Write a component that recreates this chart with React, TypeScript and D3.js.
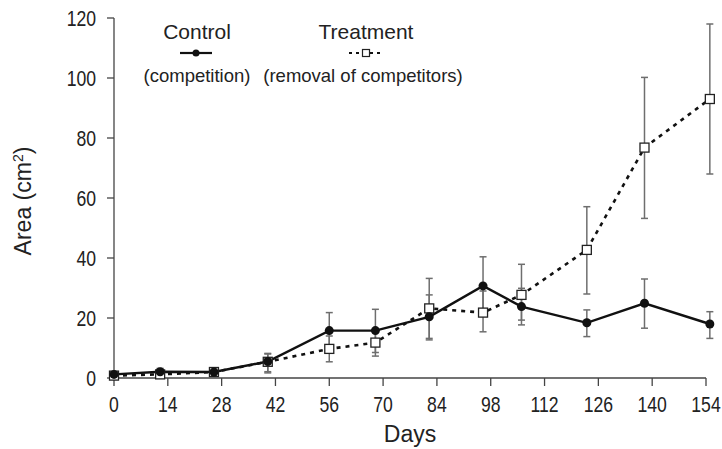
import React from "react";
import * as d3 from "d3";

const days = [0, 12, 26, 40, 56, 68, 82, 96, 106, 123, 138, 155];
const controlMean = [1.2, 2.1, 2.0, 5.5, 15.8, 15.8, 20.4, 30.7, 23.8, 18.4, 24.9, 18.0];
const controlLow = [0.6, 1.4, 1.5, 2.1, 9.8, 8.5, 12.7, 21.5, 17.7, 13.8, 16.6, 13.2];
const controlHigh = [1.8, 3.2, 2.5, 8.0, 21.8, 22.9, 27.7, 40.4, 29.9, 22.7, 33.0, 22.1];
const treatMean = [0.8, 1.2, 2.0, 5.4, 9.7, 11.8, 23.2, 21.8, 27.7, 42.7, 76.8, 93.0];
const treatLow = [0.3, 0.6, 1.5, 1.7, 5.4, 7.3, 13.2, 15.4, 19.3, 28.0, 53.2, 68.0];
const treatHigh = [1.3, 1.8, 2.5, 8.2, 14.0, 16.3, 33.2, 29.0, 37.9, 57.1, 100.2, 118.0];
const xTicks = [0, 14, 28, 42, 56, 70, 84, 98, 112, 126, 140, 154];
const yTicks = [0, 20, 40, 60, 80, 100, 120];

const W = 722;
const H = 449;
const x = d3.scaleLinear().domain([0, 154]).range([114, 706]);
const y = d3.scaleLinear().domain([0, 120]).range([378, 18]);

const FONT = "'Liberation Sans', Arial, Helvetica, sans-serif";

type Pt = { d: number; m: number; lo: number; hi: number };
const control: Pt[] = days.map((d, i) => ({ d, m: controlMean[i], lo: controlLow[i], hi: controlHigh[i] }));
const treat: Pt[] = days.map((d, i) => ({ d, m: treatMean[i], lo: treatLow[i], hi: treatHigh[i] }));

const line = d3
  .line<Pt>()
  .x((p) => x(p.d))
  .y((p) => y(p.m));

const ErrorBars = ({ data }: { data: Pt[] }) => (
  <g stroke="#6e6e6e" strokeWidth={1.5} fill="none">
    {data.map((p, i) => (
      <g key={i}>
        <line x1={x(p.d)} x2={x(p.d)} y1={y(p.lo)} y2={y(p.hi)} />
        <line x1={x(p.d) - 3.5} x2={x(p.d) + 3.5} y1={y(p.lo)} y2={y(p.lo)} />
        <line x1={x(p.d) - 3.5} x2={x(p.d) + 3.5} y1={y(p.hi)} y2={y(p.hi)} />
      </g>
    ))}
  </g>
);

const SX = 0.8;

export default function App() {
  return (
    <svg
      width={W}
      height={H}
      style={{ position: "absolute", left: 0, top: 0, background: "#fff" }}
      fontFamily={FONT}
    >
      <rect width={W} height={H} fill="#fff" />
      {/* axes */}
      <g stroke="#444" strokeWidth={1.3}>
        <line x1={x(0)} x2={x(0)} y1={y(120)} y2={y(0)} />
        <line x1={x(0)} x2={x(154)} y1={y(0)} y2={y(0)} />
        {yTicks.map((t) => (
          <line key={"yt" + t} x1={x(0) - 7} x2={x(0)} y1={y(t)} y2={y(t)} />
        ))}
        {xTicks.map((t) => (
          <line key={"xt" + t} x1={x(t)} x2={x(t)} y1={y(0)} y2={y(0) + 8} />
        ))}
      </g>
      <g fontSize={22} fill="#222">
        {yTicks.map((t) => (
          <g key={"yl" + t} transform={`translate(${x(0) - 18},${y(t) + 8}) scale(${SX},1)`}>
            <text textAnchor="end">{t}</text>
          </g>
        ))}
        {xTicks.map((t) => (
          <g key={"xl" + t} transform={`translate(${x(t)},412) scale(${SX},1)`}>
            <text textAnchor="middle">{t}</text>
          </g>
        ))}
      </g>
      <text x={410} y={442} textAnchor="middle" fontSize={23} fill="#222">
        Days
      </text>
      <text transform="translate(31,201) rotate(-90)" textAnchor="middle" fontSize={23} fill="#222">
        Area (cm<tspan fontSize={14} dy={-8}>2</tspan>
        <tspan dy={8}>)</tspan>
      </text>

      {/* error bars */}
      <ErrorBars data={treat} />
      <ErrorBars data={control} />

      {/* lines */}
      <path d={line(treat) || ""} fill="none" stroke="#111" strokeWidth={2.6} strokeDasharray="4,5" />
      <path d={line(control) || ""} fill="none" stroke="#111" strokeWidth={2.4} />

      {/* markers */}
      {treat.map((p, i) => (
        <rect key={"s" + i} x={x(p.d) - 4.5} y={y(p.m) - 4.5} width={9} height={9} fill="#fff" stroke="#222" strokeWidth={1.3} />
      ))}
      {control.map((p, i) => (
        <circle key={"c" + i} cx={x(p.d)} cy={y(p.m)} r={4.5} fill="#111" />
      ))}

      {/* legend */}
      <g fill="#222">
        <text x={197} y={39} textAnchor="middle" fontSize={21}>Control</text>
        <text x={197} y={82} textAnchor="middle" fontSize={18.5}>(competition)</text>
        <text x={366} y={39} textAnchor="middle" fontSize={21}>Treatment</text>
        <text x={363} y={82} textAnchor="middle" fontSize={18.5}>(removal of competitors)</text>
      </g>
      <line x1={180} x2={212} y1={53} y2={53} stroke="#111" strokeWidth={2.2} />
      <circle cx={196} cy={53} r={3.5} fill="#111" />
      <line x1={349} x2={384} y1={53} y2={53} stroke="#111" strokeWidth={2} strokeDasharray="3,4" />
      <rect x={362.5} y={49.5} width={7} height={7} fill="#fff" stroke="#222" strokeWidth={1.2} />
    </svg>
  );
}
